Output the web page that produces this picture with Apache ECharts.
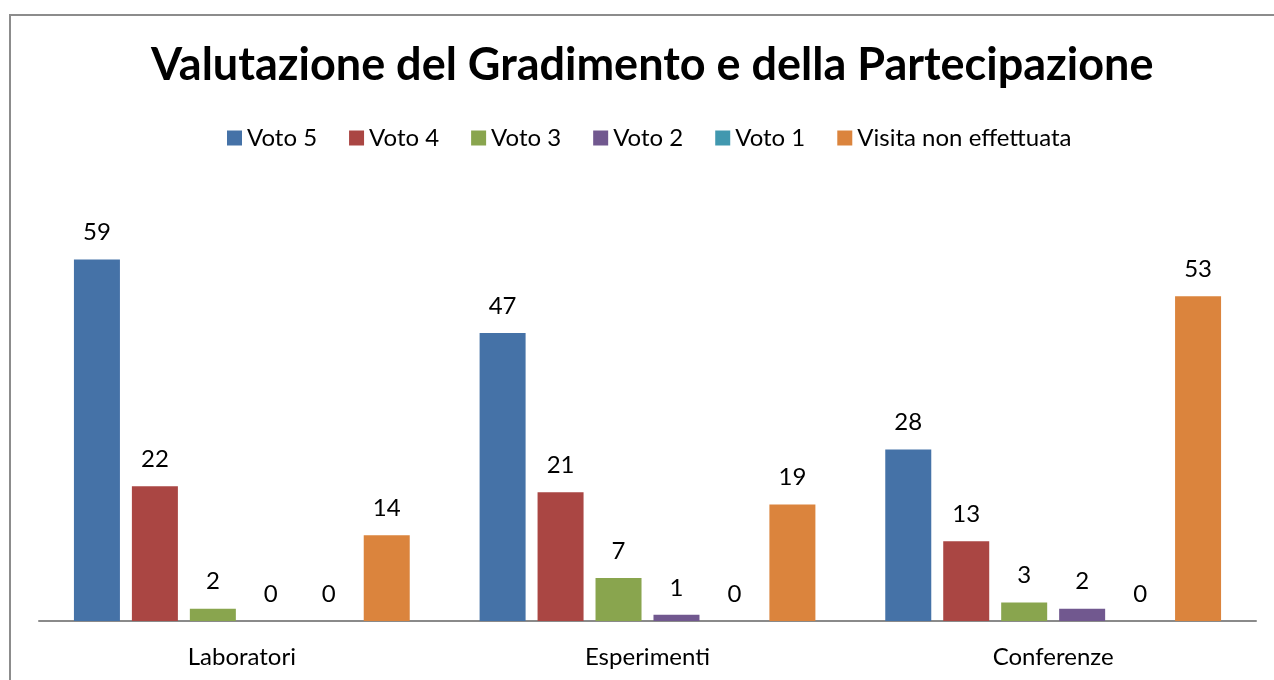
<!DOCTYPE html>
<html>
<head>
<meta charset="utf-8">
<script src="https://cdn.jsdelivr.net/npm/echarts@6/dist/echarts.min.js"></script>
<style>
html,body{margin:0;padding:0;background:#fff;}
#chart{width:1274px;height:680px;}
</style>
</head>
<body>
<div id="chart"></div>
<script>
var categories = ['Laboratori', 'Esperimenti', 'Conferenze'];
var seriesNames = ['Voto 5', 'Voto 4', 'Voto 3', 'Voto 2', 'Voto 1', 'Visita non effettuata'];
var voto5 = [59, 47, 28];
var voto4 = [22, 21, 13];
var voto3 = [2, 7, 3];
var voto2 = [0, 1, 2];
var voto1 = [0, 0, 0];
var nonEffettuata = [14, 19, 53];
var colors = ['#4572A7', '#AA4643', '#89A54E', '#71588F', '#4198AF', '#DB843D'];
var seriesData = [voto5, voto4, voto3, voto2, voto1, nonEffettuata];

var FONT = 'Lato, "Open Sans", sans-serif';
var chart = echarts.init(document.getElementById('chart'), null, {renderer: 'canvas'});
var option = {
  animation: false,
  backgroundColor: '#fff',
  color: colors,
  title: {
    text: 'Valutazione del Gradimento e della Partecipazione',
    left: 146,
    top: 38,
    textStyle: {fontFamily: FONT, fontWeight: 'bold', fontSize: 45, color: '#000'}
  },
  legend: {
    top: 121,
    left: 222,
    itemWidth: 15,
    itemHeight: 15,
    itemGap: 32,
    icon: 'rect',
    textStyle: {fontFamily: FONT, fontSize: 24, color: '#000'},
    data: seriesNames
  },
  grid: {left: 39, right: 18, top: 192, bottom: 59, containLabel: false},
  xAxis: {
    type: 'category',
    data: categories,
    axisTick: {show: false},
    axisLine: {lineStyle: {color: '#8a8a8a', width: 2}},
    axisLabel: {fontFamily: FONT, fontSize: 24, color: '#000', margin: 24}
  },
  yAxis: {
    type: 'value',
    min: 0,
    max: 70,
    show: false,
    splitLine: {show: false}
  },
  graphic: [{
    type: 'rect',
    shape: {x: 10, y: 15, width: 1300, height: 700},
    style: {fill: 'none', stroke: '#8c8c8c', lineWidth: 2},
    silent: true,
    z: 100
  }],
  series: seriesNames.map(function (name, i) {
    return {
      name: name,
      type: 'bar',
      data: seriesData[i],
      barWidth: 46,
      barGap: '26%',
      itemStyle: {color: colors[i]},
      label: {
        show: true,
        position: 'top',
        distance: 15,
        fontFamily: FONT,
        fontSize: 24,
        color: '#000'
      }
    };
  })
};
chart.setOption(option);
</script>
</body>
</html>
